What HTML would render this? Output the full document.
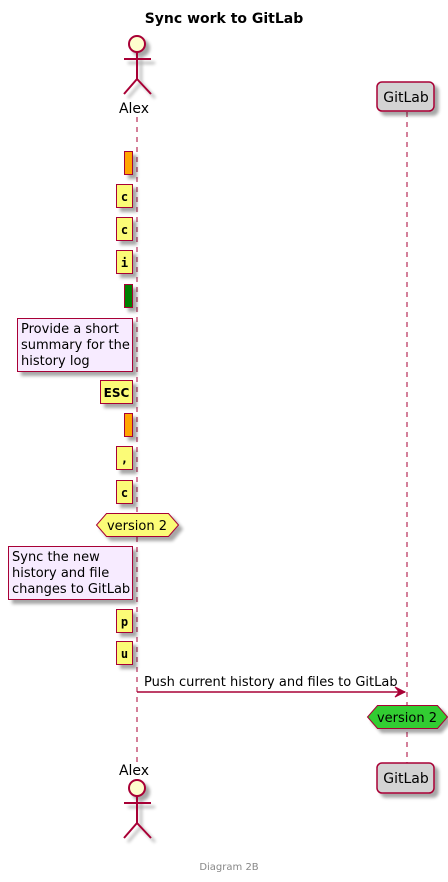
<!DOCTYPE html>
<html><head><meta charset="utf-8"><style>html,body{margin:0;padding:0;background:#fff}svg{display:block}</style></head>
<body>
<svg width="448" height="882" viewBox="0 0 448 882" xmlns="http://www.w3.org/2000/svg" font-family="DejaVu Sans, Liberation Sans, sans-serif">
<defs><filter id="sh" x="-20%" y="-20%" width="150%" height="150%"><feGaussianBlur in="SourceAlpha" stdDeviation="1.7"/><feOffset dx="4" dy="4"/><feComponentTransfer><feFuncA type="linear" slope="0.35"/></feComponentTransfer><feMerge><feMergeNode/><feMergeNode in="SourceGraphic"/></feMerge></filter></defs>
<text x="224" y="23" font-size="14" font-weight="bold" text-anchor="middle">Sync work to GitLab</text>
<!-- lifelines -->
<line x1="137" y1="117" x2="137" y2="762" stroke="#A80036" stroke-dasharray="5,5"/>
<line x1="407" y1="112" x2="407" y2="763" stroke="#A80036" stroke-dasharray="5,5"/>
<!-- top actor -->
<g stroke="#A80036" stroke-width="2" fill="none" filter="url(#sh)">
<circle cx="137" cy="44" r="8" fill="#FEFECE"/>
<path d="M137 52 V79 M124 59 H151 M137 79 L124 94 M137 79 L151 94"/>
</g>
<text x="134" y="113" font-size="14" text-anchor="middle" fill="#000">Alex</text>
<!-- bottom actor -->
<text x="134" y="775" font-size="14" text-anchor="middle" fill="#000">Alex</text>
<g stroke="#A80036" stroke-width="2" fill="none" filter="url(#sh)">
<circle cx="137" cy="788" r="8" fill="#FEFECE"/>
<path d="M137 796 V823 M124 803 H151 M137 823 L124 838 M137 823 L151 838"/>
</g>
<!-- GitLab boxes -->
<rect x="377" y="82" width="57" height="29" rx="5" fill="#D3D3D3" stroke="#A80036" stroke-width="1.5" filter="url(#sh)"/>
<text x="406" y="102" font-size="14" text-anchor="middle">GitLab</text>
<rect x="377" y="763" width="57" height="30" rx="5" fill="#D3D3D3" stroke="#A80036" stroke-width="1.5" filter="url(#sh)"/>
<text x="406" y="783" font-size="14" text-anchor="middle">GitLab</text>
<!-- notes -->
<g stroke="#A80036" stroke-width="1" filter="url(#sh)">
<rect x="124.5" y="151.5" width="8" height="23" fill="#FFA500"/>
<rect x="116.5" y="184.5" width="16" height="23" fill="#FBFB77"/>
<rect x="116.5" y="217.5" width="16" height="23" fill="#FBFB77"/>
<rect x="116.5" y="250.5" width="16" height="23" fill="#FBFB77"/>
<rect x="124.5" y="284.5" width="8" height="23" fill="#008000"/>
<rect x="17.5" y="318.5" width="115" height="53" fill="#F7EBFF"/>
<rect x="100.5" y="380.5" width="32" height="23" fill="#FBFB77"/>
<rect x="124.5" y="413.5" width="8" height="23" fill="#FFA500"/>
<rect x="116.5" y="446.5" width="16" height="23" fill="#FBFB77"/>
<rect x="116.5" y="480.5" width="16" height="23" fill="#FBFB77"/>
<polygon points="106.5,513.5 168.5,513.5 178.5,525 168.5,536.5 106.5,536.5 96.5,525" fill="#FBFB77"/>
<rect x="8.5" y="546.5" width="124" height="53" fill="#F7EBFF"/>
<rect x="116.5" y="609.5" width="16" height="23" fill="#FBFB77"/>
<rect x="116.5" y="641.5" width="16" height="23" fill="#FBFB77"/>
<polygon points="377.5,705.5 437.5,705.5 447.5,717 437.5,728.5 377.5,728.5 367.5,717" fill="#32CD32"/>
</g>
<g font-size="12" font-weight="bold" font-family="DejaVu Sans Mono, Liberation Mono, monospace" text-anchor="middle">
<text x="124.5" y="201">c</text>
<text x="124.5" y="234">c</text>
<text x="124.5" y="267">i</text>
<text x="116.5" y="397" font-family="DejaVu Sans, sans-serif">ESC</text>
<text x="124.5" y="463">,</text>
<text x="124.5" y="497">c</text>
<text x="124.5" y="626">p</text>
<text x="124.5" y="658">u</text>
</g>
<g font-size="13">
<text x="21" y="333">Provide a short</text>
<text x="21" y="349">summary for the</text>
<text x="21" y="365">history log</text>
<text x="12" y="561">Sync the new</text>
<text x="12" y="577">history and file</text>
<text x="12" y="593">changes to GitLab</text>
<text x="137" y="530" text-anchor="middle">version 2</text>
<text x="407" y="722" text-anchor="middle">version 2</text>
<text x="144" y="686">Push current history and files to GitLab</text>
</g>
<line x1="137" y1="692" x2="405" y2="692" stroke="#A80036" stroke-width="1.5"/>
<path d="M395 687 L405 692 L395 697 L399 692 Z" fill="#A80036" stroke="#A80036"/>
<text x="229" y="870" font-size="10" fill="#888" text-anchor="middle">Diagram 2B</text>
</svg>
</body></html>
